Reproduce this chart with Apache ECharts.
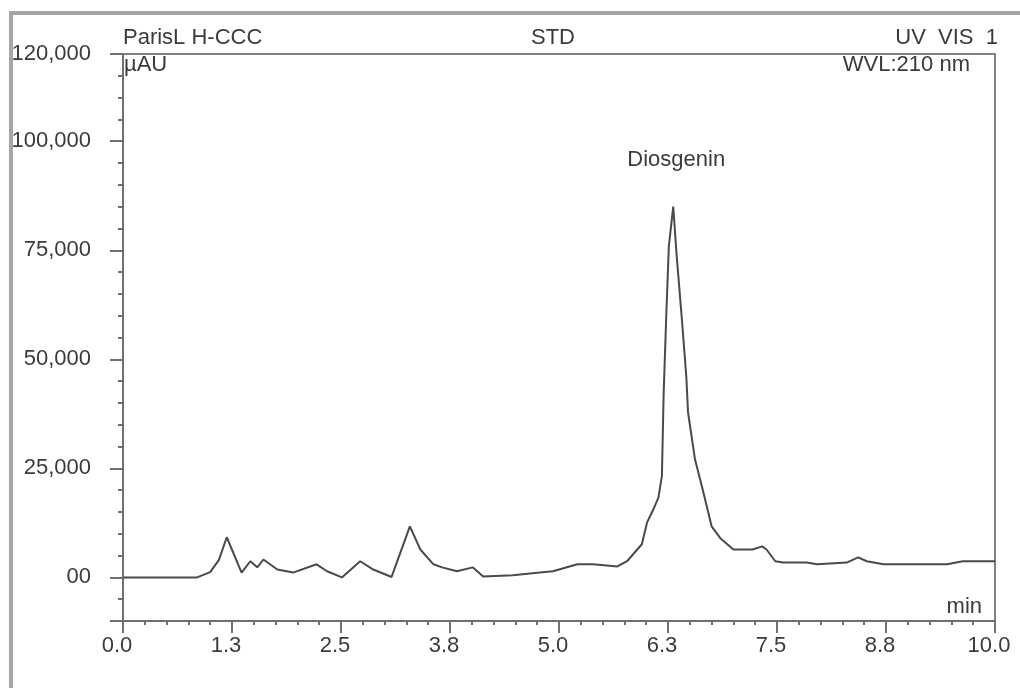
<!DOCTYPE html>
<html>
<head>
<meta charset="utf-8">
<title>Diosgenin STD chromatogram</title>
<script src="https://cdn.jsdelivr.net/npm/echarts@6.0.0/dist/echarts.min.js"></script>
<style>
  html, body { margin: 0; padding: 0; background: #fff; }
  #chart { width: 1020px; height: 688px; }
</style>
</head>
<body>
<div id="chart"></div>
<script>
// retention time (min) and signal (µAU)
var times = [0, 0.5, 0.85, 1.0, 1.1, 1.19, 1.36, 1.46, 1.54, 1.61, 1.77, 1.95, 2.22, 2.34, 2.51,
  2.72, 2.87, 3.08, 3.29, 3.41, 3.56, 3.66, 3.83, 4.01, 4.13, 4.47, 4.78, 4.93, 5.21, 5.39,
  5.67, 5.78, 5.95, 6.01, 6.08, 6.14, 6.18, 6.20, 6.23, 6.26, 6.31, 6.35, 6.41, 6.46, 6.48,
  6.56, 6.65, 6.75, 6.85, 7.0, 7.22, 7.33, 7.38, 7.48, 7.57, 7.84, 7.96, 8.30, 8.43, 8.53,
  8.72, 9.45, 9.63, 10.0];
var signal = [0, 0, 0, 1200, 4000, 9200, 1100, 3700, 2300, 4100, 1800, 1100, 3000, 1400, 0,
  3700, 1800, 100, 11700, 6400, 3000, 2300, 1400, 2300, 200, 500, 1100, 1400, 3000, 3000,
  2500, 3700, 7600, 12600, 15500, 18300, 23200, 42000, 60000, 76000, 85000, 73600, 59000, 46000, 37800,
  27000, 20000, 11700, 9000, 6400, 6400, 7100, 6400, 3700, 3400, 3400, 3000, 3400, 4600, 3700,
  3000, 3000, 3700, 3700];
var peakNames = ['Diosgenin'];

var xLabelStep = 1.25;
var yLabelValues = [0, 25000, 50000, 75000, 100000, 120000];
var yLabelTexts = ['00', '25,000', '50,000', '75,000', '100,000', '120,000'];
var yMajorTicks = [-10000, 0, 25000, 50000, 75000, 100000, 120000];

var chart = echarts.init(document.getElementById('chart'));

var points = [];
for (var i = 0; i < times.length; i++) {
  points.push([times[i], signal[i]]);
}
// main peak -> name label
var top_i = 0;
for (var j = 0; j < signal.length; j++) {
  if (signal[j] > signal[top_i]) top_i = j;
}

var font = 'Liberation Sans, Arial, sans-serif';
var fs = 22;
var txt = '#3b3b3b';
var axisGray = '#707070';

var option = {
  animation: false,
  backgroundColor: '#fff',
  grid: {
    left: 123, top: 54, right: 25, bottom: 67,
    show: true, borderColor: '#808080', borderWidth: 2, backgroundColor: 'transparent'
  },
  xAxis: [{
    type: 'value', min: 0, max: 10, interval: xLabelStep,
    axisLine: { show: true, onZero: false, lineStyle: { color: axisGray, width: 2 } },
    axisTick: { show: true, length: 12, lineStyle: { color: axisGray, width: 2 } },
    minorTick: { show: true, splitNumber: 5, length: 4, lineStyle: { color: axisGray, width: 2 } },
    splitLine: { show: false },
    axisLabel: {
      margin: 14, color: txt, fontFamily: font, fontSize: fs, padding: [0, 12, 0, 0],
      formatter: function (v) { return v.toFixed(1); }
    }
  }],
  yAxis: [{
    type: 'value', min: -10000, max: 120000, interval: 5000,
    axisLine: { show: true, onZero: false, lineStyle: { color: axisGray, width: 2 } },
    axisTick: { show: true, length: 5, lineStyle: { color: axisGray, width: 2 } },
    splitLine: { show: false },
    axisLabel: {
      margin: 32, color: txt, fontFamily: font, fontSize: fs,
      formatter: function (v) {
        var k = yLabelValues.indexOf(v);
        return k < 0 ? '' : yLabelTexts[k];
      }
    }
  }, {
    type: 'value', min: -10000, max: 120000, position: 'left',
    axisLine: { show: false },
    axisLabel: { show: false },
    splitLine: { show: false },
    axisTick: { show: true, length: 13, customValues: yMajorTicks, lineStyle: { color: axisGray, width: 2 } }
  }],
  series: [{
    type: 'line',
    data: points,
    showSymbol: false,
    lineStyle: { color: '#4a4a4a', width: 2 },
    markPoint: {
      symbol: 'circle', symbolSize: 0,
      label: {
        show: true, position: 'top', distance: 36, offset: [3, 0],
        color: txt, fontFamily: font, fontSize: fs,
        formatter: function (p) { return p.name; }
      },
      data: [{ name: peakNames[0], coord: [times[top_i], signal[top_i]] }]
    }
  }],
  graphic: [
    { type: 'polyline', shape: { points: [[11, 688], [11, 13], [1020, 13]] },
      style: { stroke: '#a6a6a6', lineWidth: 4, fill: null } },
    { type: 'text', x: 123, y: 38, style: { text: 'ParisL H-CCC', fill: txt, font: fs + 'px ' + font, align: 'left', verticalAlign: 'middle' } },
    { type: 'text', x: 553, y: 38, style: { text: 'STD', fill: txt, font: fs + 'px ' + font, align: 'center', verticalAlign: 'middle' } },
    { type: 'text', x: 998, y: 38, style: { text: 'UV  VIS  1', fill: txt, font: fs + 'px ' + font, align: 'right', verticalAlign: 'middle' } },
    { type: 'text', x: 124, y: 65, style: { text: 'µAU', fill: txt, font: fs + 'px ' + font, align: 'left', verticalAlign: 'middle' } },
    { type: 'text', x: 970, y: 65, style: { text: 'WVL:210 nm', fill: txt, font: fs + 'px ' + font, align: 'right', verticalAlign: 'middle' } },
    { type: 'text', x: 982, y: 607, style: { text: 'min', fill: txt, font: fs + 'px ' + font, align: 'right', verticalAlign: 'middle' } }
  ]
};

chart.setOption(option);
</script>
</body>
</html>
